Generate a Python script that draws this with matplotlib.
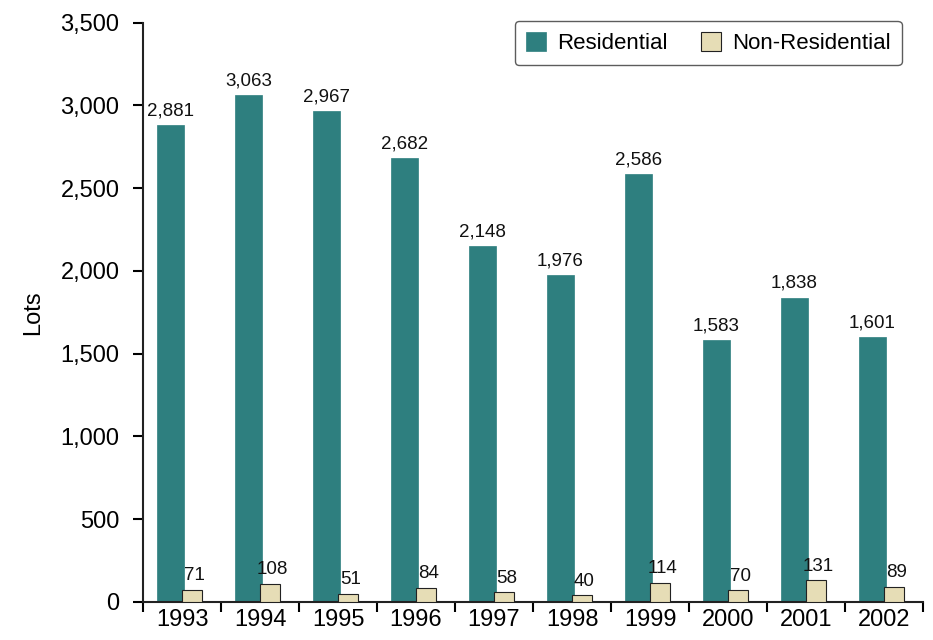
import matplotlib
matplotlib.use("Agg")
import matplotlib.pyplot as plt
import numpy as np
from matplotlib import font_manager

years = ["1993", "1994", "1995", "1996", "1997", "1998", "1999", "2000", "2001", "2002"]
residential = [2881, 3063, 2967, 2682, 2148, 1976, 2586, 1583, 1838, 1601]
non_residential = [71, 108, 51, 84, 58, 40, 114, 70, 131, 89]

names = {f.name for f in font_manager.fontManager.ttflist}
fam = "Liberation Sans Narrow" if "Liberation Sans Narrow" in names else "Liberation Sans"
plt.rcParams["font.family"] = [fam, "DejaVu Sans"]

teal = "#2e7f7f"
beige = "#e6ddb6"

fig = plt.figure(figsize=(9.33, 6.4), dpi=100)
ax = fig.add_axes([143/933, 1-602/640, (923-143)/933, (602-22.7)/640])

x = np.arange(len(years))
ax.bar(x + 0.35, residential, width=0.34, color=teal, edgecolor=teal, linewidth=0.5,
       label="Residential", zorder=2)
ax.bar(x + 0.63, non_residential, width=0.26, color=beige, edgecolor="#222222", linewidth=0.8,
       label="Non-Residential", zorder=3)

for xi, v in zip(x, residential):
    ax.text(xi + 0.35, v + 35, f"{v:,}", ha="center", va="bottom", fontsize=13.5, color="#111111")
for xi, v in zip(x, non_residential):
    ax.text(xi + 0.66, v + 35, f"{v:,}", ha="center", va="bottom", fontsize=13.5, color="#111111")

ax.set_xlim(0, len(years))
ax.set_ylim(0, 3500)
ax.set_yticks(np.arange(0, 3501, 500))
ax.set_yticklabels([f"{int(t):,}" for t in np.arange(0, 3501, 500)], fontsize=17)
ax.set_xticks(np.arange(0, len(years) + 1))
ax.set_xticklabels([])
ax.set_xticks(x + 0.5, minor=True)
ax.set_xticklabels(years, minor=True, fontsize=17)
ax.tick_params(axis="x", which="minor", length=0, pad=5)
ax.tick_params(axis="x", which="major", length=7, width=1.5, direction="out")
ax.tick_params(axis="y", length=7, width=1.5, direction="out", pad=10)

for s in ["top", "right"]:
    ax.spines[s].set_visible(False)
for s in ["left", "bottom"]:
    ax.spines[s].set_linewidth(1.5)
    ax.spines[s].set_color("#222222")

ax.set_ylabel("Lots", fontsize=17, labelpad=12)

leg = ax.legend(loc="upper right", ncol=2, fontsize=16, frameon=True, fancybox=True,
                edgecolor="#333333", handlelength=0.9, handleheight=0.9, columnspacing=1.5,
                handletextpad=0.5, borderpad=0.5, borderaxespad=0,
                bbox_to_anchor=(0.973, 1.003))
leg.get_frame().set_linewidth(1.0)

fig.savefig("out.png", dpi=100)
